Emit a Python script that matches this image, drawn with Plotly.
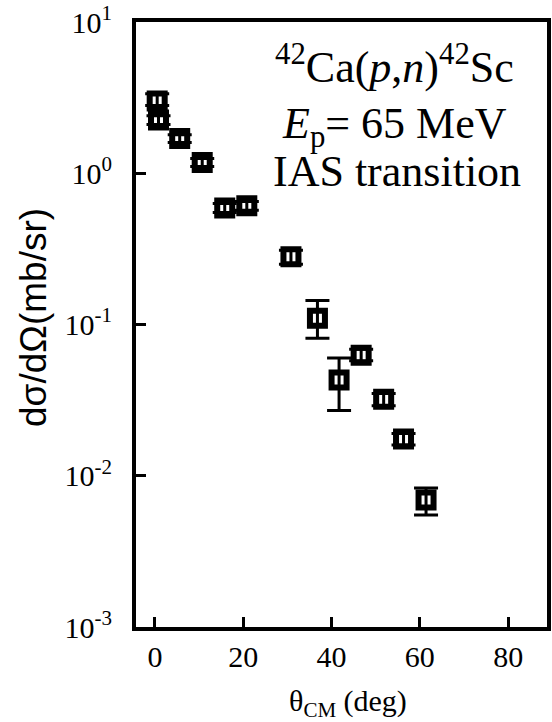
import plotly.graph_objects as go

# --- data ---
theta_deg = [0.5, 0.8, 5.6, 10.7, 15.8, 20.8, 30.8, 36.8, 41.7, 46.7, 51.8, 56.3, 61.4]
xsec_mb_sr = [3.0, 2.25, 1.70, 1.18, 0.59, 0.61, 0.28, 0.110, 0.043, 0.0625, 0.032, 0.0175, 0.0069]
err_plus = [0.35, 0.15, 0.10, 0.07, 0.04, 0.04, 0.03, 0.034, 0.017, 0.006, 0.003, 0.0015, 0.0014]
err_minus = [0.20, 0.15, 0.10, 0.07, 0.04, 0.04, 0.03, 0.029, 0.016, 0.005, 0.003, 0.0015, 0.0014]

y_tickvals = [0.001, 0.01, 0.1, 1, 10]
y_ticktext = ["10<sup>-3</sup>", "10<sup>-2</sup>", "10<sup>-1</sup>", "10<sup>0</sup>", "10<sup>1</sup>"]

W, H = 552, 722
L, R, T, B = 136, 551, 22, 627


def px(xp):
    return (xp - L) / (R - L)


def py(yp):
    return (B - yp) / (B - T)


serif = "Liberation Serif"
sans = "Liberation Sans"

fig = go.Figure()
fig.add_trace(go.Scatter(
    x=theta_deg, y=xsec_mb_sr, mode="markers",
    marker=dict(symbol="square-open", size=15, color="black",
                line=dict(width=6, color="black")),
    error_y=dict(type="data", symmetric=False, array=err_plus, arrayminus=err_minus,
                 color="black", thickness=3, width=12),
    showlegend=False,
))

fig.update_layout(
    width=W, height=H,
    margin=dict(l=L, r=W - R, t=T, b=H - B),
    paper_bgcolor="white", plot_bgcolor="rgba(0,0,0,0)",
    font=dict(family=serif, color="black"),
    xaxis=dict(
        range=[-4.3, 88.8], showgrid=False, zeroline=False,
        showline=True, linewidth=4, linecolor="black", mirror=True,
        tickmode="linear", tick0=0, dtick=20,
        ticks="inside", ticklen=10, tickwidth=3, tickcolor="black",
        tickfont=dict(family=serif, size=30, color="black"),
    ),
    yaxis=dict(
        type="log", range=[-3, 1], showgrid=False, zeroline=False,
        showline=True, linewidth=4, linecolor="black", mirror=True,
        tickmode="array", tickvals=y_tickvals, ticktext=y_ticktext,
        ticks="inside", ticklen=10, tickwidth=3, tickcolor="black",
        tickfont=dict(family=serif, size=30, color="black"),
        ticklabelstandoff=14,
    ),
)

annots = [
    dict(text="<sup>42</sup>Ca(<i>p</i>,<i>n</i>)<sup>42</sup>Sc", x=px(397), y=py(64),
         font=dict(family=serif, size=44)),
    dict(text="<i>E</i><sub>p</sub>= 65 MeV", x=px(397), y=py(126),
         font=dict(family=serif, size=44)),
    dict(text="IAS transition", x=px(400), y=py(172),
         font=dict(family=serif, size=44)),
    dict(text="θ<sub>CM</sub> (deg)", x=px(350), y=py(703),
         font=dict(family=serif, size=30)),
    dict(text="dσ/dΩ(mb/sr)", x=px(32), y=py(318), textangle=-90,
         font=dict(family=sans, size=37)),
]
for a in annots:
    fig.add_annotation(xref="paper", yref="paper", showarrow=False,
                       xanchor="center", yanchor="middle", **a)

fig.write_html("out.html")
